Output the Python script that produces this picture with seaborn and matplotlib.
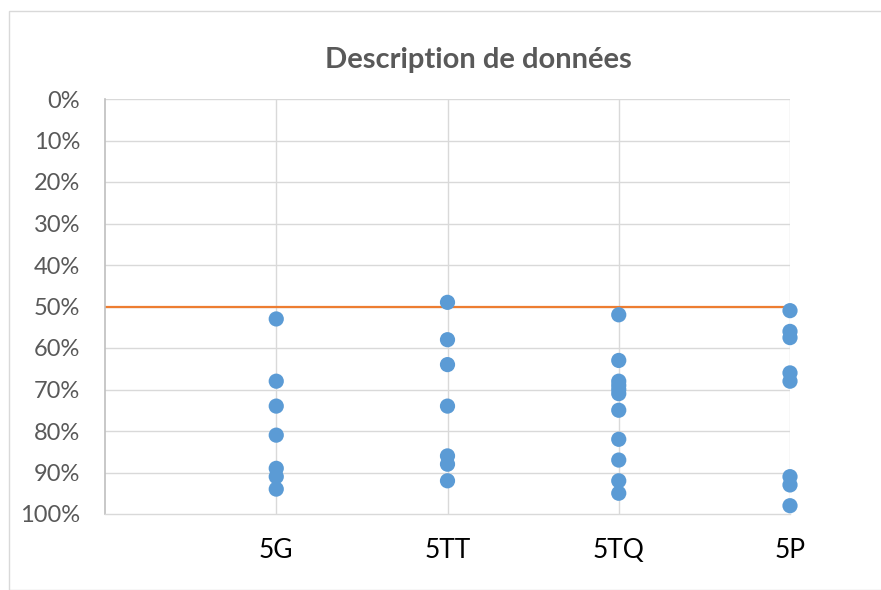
import pandas as pd
import numpy as np
import matplotlib.pyplot as plt
import seaborn as sns
from matplotlib.patches import Rectangle
from matplotlib.ticker import PercentFormatter

# données (en %)
categories = ['5G', '5TT', '5TQ', '5P']
vals_5g = [53, 68, 74, 81, 89, 91, 94]
vals_5tt = [49, 58, 64, 74, 86, 88, 92]
vals_5tq = [52, 63, 68, 69, 70, 71, 75, 82, 87, 92, 95]
vals_5p = [51, 56, 57.5, 66, 68, 91, 93, 98]
seuil = 50
y_ticks = list(range(0, 101, 10))

series = [vals_5g, vals_5tt, vals_5tq, vals_5p]
rows = []
for i, (cat, vals) in enumerate(zip(categories, series)):
    for v in vals:
        rows.append({'cat': cat, 'pos': i + 1, 'val': v / 100})
df = pd.DataFrame(rows)

sns.set_theme(style='white')
plt.rcParams['font.family'] = ['Lato', 'DejaVu Sans']

fig = plt.figure(figsize=(8.81, 5.9), dpi=100)
fig.patches.append(Rectangle((9 / 881, 0), 1, 1 - 11 / 590, transform=fig.transFigure,
                             fill=False, edgecolor='#D9D9D9', linewidth=1))
ax = fig.add_axes([105 / 881, 1 - 514 / 590, (790 - 105) / 881, (514 - 99) / 590])

# grille
for t in y_ticks[:-1]:
    ax.axhline(t / 100, color='#D9D9D9', linewidth=1, zorder=0)
for i in range(1, len(categories) + 1):
    ax.axvline(i, color='#D9D9D9', linewidth=1, zorder=0)

ax.plot([0, len(categories)], [seuil / 100, seuil / 100], color='#ED7D31', linewidth=1.6, zorder=2)

sns.scatterplot(data=df, x='pos', y='val', ax=ax, color='#5B9BD5', s=120,
                edgecolor='none', zorder=3, clip_on=False, legend=False)

ax.set_xlim(0, len(categories))
ax.set_ylim(1, 0)
ax.set_yticks([t / 100 for t in y_ticks])
ax.yaxis.set_major_formatter(PercentFormatter(1.0, decimals=0))
ax.set_xticks(range(1, len(categories) + 1))
ax.set_xticklabels(categories)
ax.tick_params(axis='y', labelsize=17, labelcolor='#595959', length=0, pad=18)
ax.tick_params(axis='x', labelsize=19, labelcolor='black', length=0, pad=17)
ax.set_xlabel('')
ax.set_ylabel('')

for s in ['top', 'right']:
    ax.spines[s].set_visible(False)
ax.spines['left'].set_color('#BFBFBF')
ax.spines['bottom'].set_color('#D9D9D9')
ax.spines['left'].set_linewidth(1.2)
ax.spines['bottom'].set_linewidth(1)

fig.text(478 / 881, 1 - 60 / 590, 'Description de données', ha='center', va='center',
         fontsize=21, fontweight='bold', color='#595959')

fig.savefig('out.png', dpi=100)
